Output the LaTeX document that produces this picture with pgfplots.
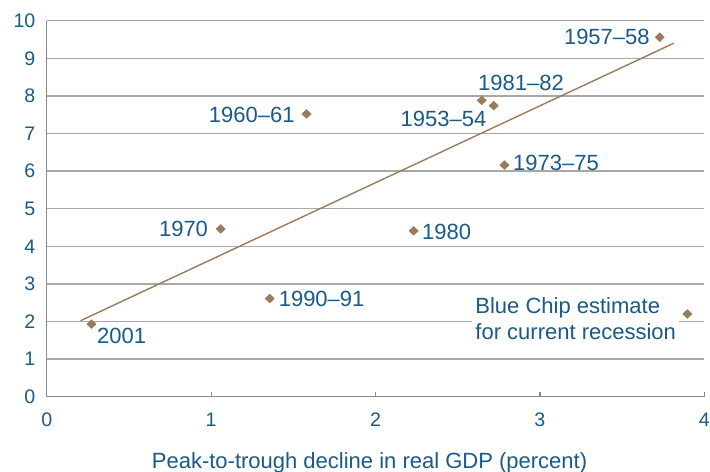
\documentclass[border=0pt]{standalone}
\usepackage{fontspec}
\setmainfont{Liberation Sans}
\usepackage{pgfplots}
\pgfplotsset{compat=1.18}

\definecolor{txtblue}{HTML}{1A5A86}
\definecolor{brown}{HTML}{9A7B5A}
\definecolor{gridgray}{HTML}{A8A8A8}
\definecolor{axgray}{HTML}{8A8A8A}

\begin{document}
\begin{tikzpicture}[font=\fontsize{11}{13}\selectfont]
\begin{axis}[
  scale only axis,
  width=328.8pt, height=188pt,
  xmin=0, xmax=4, ymin=0, ymax=10,
  xtick={0,1,2,3,4}, ytick={0,1,...,10},
  /pgf/number format/assume math mode=true,
  ticklabel style={text=txtblue, font=\fontsize{9.8}{12}\selectfont},
  yticklabel style={xshift=-5.5pt},
  xticklabel style={yshift=-8pt},
  axis x line*=bottom, axis y line*=left,
  axis line style={axgray, line width=0.7pt, -},
  ymajorgrids,
  major grid style={gridgray, line width=0.7pt},
  xtick style={axgray, line width=0.6pt},
  ytick style={draw=none},
  tick align=inside,
  major tick length=2.5pt,
  xlabel={Peak-to-trough decline in real GDP (percent)},
  xlabel style={at={(axis description cs:0.5,0)}, anchor=base, yshift=-36pt, xshift=-3pt, text=txtblue},
  clip=false,
  nodes={text=txtblue, inner sep=0pt},
]
% fitted line
\addplot[brown, line width=0.7pt] coordinates {(0.205,2.02) (3.814,9.40)};
% recessions
\addplot[only marks, mark=diamond*, mark size=2.1pt, brown, mark options={fill=brown, draw=brown, xscale=1.4}] coordinates {
  (0.272,1.93)
  (1.356,2.61)
  (1.058,4.46)
  (1.580,7.52)
  (2.232,4.41)
  (2.646,7.88)
  (2.719,7.74)
  (2.784,6.16)
  (3.729,9.56)
  (3.897,2.20)
};
\node[anchor=west] at (axis cs:0.304,1.61) {2001};
\node[anchor=west] at (axis cs:1.409,2.61) {1990--91};
\node[anchor=east] at (axis cs:0.983,4.46) {1970};
\node[anchor=east] at (axis cs:1.510,7.49) {1960--61};
\node[anchor=west] at (axis cs:2.281,4.38) {1980};
\node[anchor=west] at (axis cs:2.835,6.21) {1973--75};
\node[anchor=east] at (axis cs:3.670,9.56) {1957--58};
\node[anchor=west] at (axis cs:2.622,8.35) {1981--82};
\node[anchor=east] at (axis cs:2.676,7.40) {1953--54};
\node[anchor=west, fill=white, inner xsep=1.5pt, inner ysep=0.5pt, align=left] at (axis cs:2.587,2.07) {Blue Chip estimate\\for current recession};
\end{axis}
\pgfresetboundingbox
\useasboundingbox (-23.4pt,-37.65pt) rectangle (331.65pt,198.35pt);
\end{tikzpicture}
\end{document}
